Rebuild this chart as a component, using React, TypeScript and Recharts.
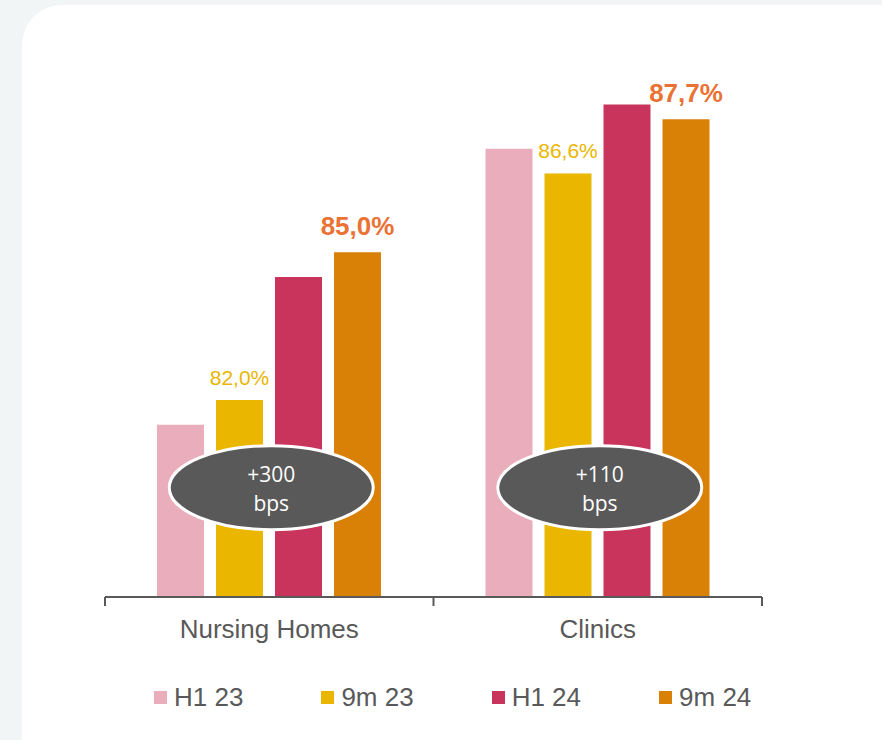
import { BarChart, Bar, XAxis, YAxis, Legend, LabelList, ReferenceDot } from "recharts";

const categories = ["Nursing Homes", "Clinics"];
const seriesNames = ["H1 23", "9m 23", "H1 24", "9m 24"];
const h1_23 = [81.5, 87.1];
const m9_23 = [82.0, 86.6];
const h1_24 = [84.5, 88.0];
const m9_24 = [85.0, 87.7];
const bpsChange = ["+300", "+110"];
const badgeLevel = 80.22;

const colors = ["#e9adbb", "#eab600", "#c9345d", "#d98006"];
const keys = ["h1_23", "m9_23", "h1_24", "m9_24"];

const data = categories.map((name, i) => ({
  name,
  h1_23: h1_23[i],
  m9_23: m9_23[i],
  h1_24: h1_24[i],
  m9_24: m9_24[i],
}));

const FONT = "'Liberation Sans', Arial, sans-serif";
const fmt = (v: number) => v.toFixed(1).replace(".", ",") + "%";

const AxisTick = (props: any) => {
  const { x, y, payload, index } = props;
  const half = payload.offset ?? 164;
  return (
    <g>
      <line x1={x - half} y1={y} x2={x - half} y2={y + 9} stroke="#595959" strokeWidth={2} />
      {index === categories.length - 1 && (
        <line x1={x + half} y1={y} x2={x + half} y2={y + 9} stroke="#595959" strokeWidth={2} />
      )}
      <text x={x} y={y + 41} textAnchor="middle" fill="#595959" fontSize={26} fontFamily={FONT}>
        {payload.value}
      </text>
    </g>
  );
};

const LegendContent = () => (
  <div style={{ height: 80, paddingTop: 24, paddingLeft: 154, boxSizing: "border-box", display: "flex", gap: 78 }}>
    {seriesNames.map((s, i) => (
      <div key={s} style={{ display: "flex", alignItems: "center", height: 26 }}>
        <span style={{ width: 13, height: 13, background: colors[i], marginRight: 7, display: "inline-block" }} />
        <span style={{ fontSize: 26, lineHeight: "26px", color: "#595959", fontFamily: FONT }}>{s}</span>
      </div>
    ))}
  </div>
);

const smallLabel = (props: any) => {
  const { x, y, width, value } = props;
  return (
    <text x={x + width / 2} y={y - 15} textAnchor="middle" fill="#eab600" fontSize={21} fontFamily={FONT}>
      {fmt(value)}
    </text>
  );
};

const boldLabel = (props: any) => {
  const { x, y, width, value } = props;
  return (
    <text x={x + width / 2} y={y - 17} textAnchor="middle" fill="#ea7234" fontSize={26} fontWeight="bold" fontFamily={FONT}>
      {fmt(value)}
    </text>
  );
};

const badge = (label: string) => (props: any) => {
  const { cx, cy } = props;
  return (
    <g>
      <ellipse cx={cx + 2} cy={cy} rx={102} ry={42} fill="#595959" stroke="#ffffff" strokeWidth={3} />
      <text x={cx + 2} y={cy - 6} textAnchor="middle" fill="#ffffff" fontSize={21} fontFamily="'Open Sans', sans-serif">
        {label}
      </text>
      <text x={cx + 2} y={cy + 23} textAnchor="middle" fill="#ffffff" fontSize={21} fontFamily="'Open Sans', sans-serif">
        bps
      </text>
    </g>
  );
};

export default function App() {
  return (
    <div style={{ position: "absolute", left: 0, top: 0, width: 882, height: 740, background: "#f2f5f6", overflow: "hidden" }}>
      <div style={{ position: "absolute", left: 22, top: 5, width: 900, height: 800, borderRadius: 40, background: "#ffffff" }} />
      <div style={{ position: "absolute", left: 0, top: 0 }}>
        <BarChart width={882} height={740} data={data} margin={{ top: 6, right: 120, bottom: 0, left: 105 }} barGap={12} barSize={47}>
          <XAxis
            dataKey="name"
            axisLine={{ stroke: "#595959", strokeWidth: 2 }}
            tickLine={false}
            tickSize={0}
            tickMargin={0}
            height={63}
            tick={<AxisTick />}
            interval={0}
          />
          <YAxis hide domain={[78, 90]} allowDataOverflow />
          <Legend verticalAlign="bottom" content={<LegendContent />} wrapperStyle={{ left: 0, width: 882, bottom: 0 }} />
          {keys.map((k, i) => (
            <Bar key={k} dataKey={k} name={seriesNames[i]} fill={colors[i]} isAnimationActive={false}>
              {k === "m9_23" && <LabelList dataKey={k} content={smallLabel} />}
              {k === "m9_24" && <LabelList dataKey={k} content={boldLabel} />}
            </Bar>
          ))}
          {categories.map((c, i) => (
            <ReferenceDot key={c} x={c} y={badgeLevel} r={0} shape={badge(bpsChange[i])} />
          ))}
        </BarChart>
      </div>
    </div>
  );
}
